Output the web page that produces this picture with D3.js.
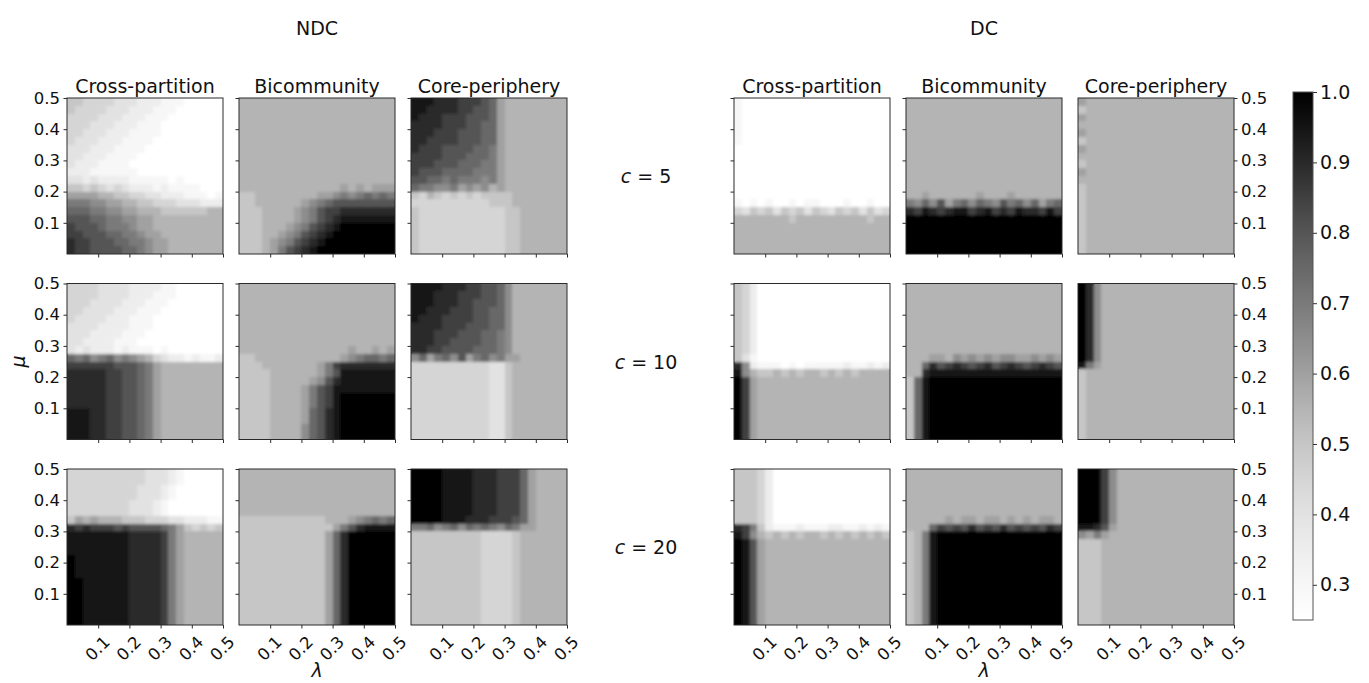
<!DOCTYPE html>
<html lang="en">
<head>
<meta charset="UTF-8">
<title>NDC vs DC heatmaps</title>
<script src="https://d3js.org/d3.v7.min.js"></script>
<style>
  body { margin: 0; background: #fff; }
  svg text { font-family: "DejaVu Sans", sans-serif; fill: #111; }
</style>
</head>
<body>
<script>
    // ---- labels and ticks ----
    var groups = ["NDC", "DC"];
    var models = ["Cross-partition", "Bicommunity", "Core-periphery"];
    var cValues = [5, 10, 20];
    var lambdaTicks = [0.1, 0.2, 0.3, 0.4, 0.5];
    var muTicks = [0.1, 0.2, 0.3, 0.4, 0.5];
    var colorTicks = [0.3, 0.4, 0.5, 0.6, 0.7, 0.8, 0.9, 1.0];

    // each hex digit in the grids below stands for one of these values
    var levels = [0.25, 0.30, 0.35, 0.40, 0.45, 0.50, 0.55, 0.60,
                  0.65, 0.70, 0.75, 0.80, 0.85, 0.90, 0.95, 1.00];

    // grids: row 0 = top (mu ~ 0.5), column 0 = left (lambda ~ 0)
    var ndc5Cross = [
        "55444433322211100000", "54444333222111000000", "44443332221110000000", "44433322211100000000",
        "44333222111100000000", "43332221111000000000", "33322211110000000000", "33222111100000000000",
        "32221111000000000000", "22211111100000000000", "33232222111110100000", "55454343222121111000",
        "77776655443322211101", "99988776655444333222", "aaa99887766655555566", "bbbaa998877666666666",
        "cbbba999877666666666", "ccbbbaa9987766666666", "dccbbbaa998776666666", "dccbbbbaa98776666666"
    ];
    var ndc5Bi = [
        "66666666666666666666", "66666666666666666666", "66666666666666666666", "66666666666666666666",
        "66666666666666666666", "66666666666666666666", "66666666666666666666", "66666666666666666666",
        "66666666666666666666", "66666666666666666666", "66666666666666666666", "66666666666667676777",
        "5566666666778989a9a9", "55666666789abbbbbbbb", "5556666789bccddddddd", "5556666789bcdeeeeeee",
        "555666789bcdefffffff", "55566789bcdeffffffff", "5556789bcdefffffffff", "555679bcdeffffffffff"
    ];
    var ndc5Core = [
        "eeedddcccba766666666", "eeddddccbba766666666", "edddcccbbba766666666", "ddddcccbbaa766666666",
        "dddcccbbbaa766666666", "ddccccbbbaa766666666", "dcccbbbbaa9766666666", "ccccbbbaaa9766666666",
        "cccbbbaaa99766666666", "cbbbaaaa999766666666", "bbaa9a99989766666666", "a9988978786766666666",
        "54654545455556666666", "44444444445556666666", "54444444444455666666", "54444444444455666666",
        "54444444444455666666", "54444444444455666666", "54444444444455666666", "54444444444455666666"
    ];
    var ndc10Cross = [
        "44443333222211000000", "44443333222111000000", "44433332221110000000", "44333322211100000000",
        "43333222111000000000", "33332222111000000000", "33322221110000000000", "33222211100000000000",
        "32322212111010000000", "a9a89a89876432212112", "ccccccbbba9766666666", "dddddccbba9766666666",
        "dddddccbba9766666666", "dddddccbba9766666666", "dddddccbba9766666666", "dddddccbba9766666666",
        "eeeddccbba9766666666", "eeeddccbba9766666666", "eeeddccbba9766666666", "eeeddccbba9766666666"
    ];
    var ndc10Bi = [
        "66666666666666666666", "66666666666666666666", "66666666666666666666", "66666666666666666666",
        "66666666666666666666", "66666666666666666666", "66666666666666666666", "66666666666666666666",
        "66666666666666766767", "5566666666666789aa9a", "555666666679cddddddd", "555566666679beeeeeee",
        "55556666678bdeeeeeee", "5555666679bceeeeeeee", "5555666679bcefffffff", "5555666679bcefffffff",
        "555566667abdefffffff", "555566667abdefffffff", "555566668abdefffffff", "555566668abdefffffff"
    ];
    var ndc10Core = [
        "eeeedddccbba86666666", "eeedddcccbba86666666", "eeedddccbbba86666666", "eedddcccbbaa86666666",
        "edddccccbbaa86666666", "ddddcccbbbaa86666666", "dddcccbbbaa986666666", "dddccbbbbaa986666666",
        "ddccbbbbaaa986666666", "8a79a8b79a8977666666", "44444444443356666666", "44444444443356666666",
        "44444444443356666666", "44444444443356666666", "44444444443356666666", "44444444443356666666",
        "44444444443356666666", "44444444443356666666", "44444444443356666666", "44444444443356666666"
    ];
    var ndc20Cross = [
        "44444444443332100000", "44444444443332100000", "44444444433321000000", "44444444433321000000",
        "44444444333210000000", "44444444333210000000", "57676665554443322211", "dcdcccbcbbbba9754545",
        "eeeeeeeeddddc9766666", "eeeeeeeeddddc9766666", "eeeeeeeeddddc9766666", "feeeeeeeddddc9766666",
        "feeeeeeeddddc9766666", "feeeeeeeddddc9766666", "ffeeeeeeddddc9766666", "ffeeeeeeddddc9766666",
        "ffeeeeeeddddc9766666", "ffeeeeeeddddc9766666", "ffeeeeeeddddc9766666", "ffeeeeeeddddc9766666"
    ];
    var ndc20Bi = [
        "66666666666666666666", "66666666666666666666", "66666666666666666666", "66666666666666666666",
        "66666666666666666666", "66666666666666666666", "55555555555666789a9a", "55555555555579bdeeee",
        "555555555557adffffff", "555555555557adffffff", "555555555557adffffff", "555555555557adffffff",
        "555555555557adffffff", "555555555557adffffff", "555555555557adffffff", "555555555557adffffff",
        "555555555557adffffff", "555555555557adffffff", "555555555557adffffff", "555555555557adffffff"
    ];
    var ndc20Core = [
        "ffffeeeedddccca76666", "ffffeeeedddccca76666", "ffffeeeedddccca76666", "ffffeeeedddccca76666",
        "ffffeeeedddccca76666", "ffffeeeedddccca76666", "ffffeeedddcccba76666", "99a89a8a9a98a9776666",
        "55555555544445666666", "55555555544445666666", "55555555544445666666", "55555555544445666666",
        "55555555544445666666", "55555555544445666666", "55555555544445666666", "55555555544445666666",
        "55555555544445666666", "55555555544445666666", "55555555544445666666", "55555555544445666666"
    ];
    var dc5Cross = [
        "10000000000000000000", "10000000000000000000", "10000000000000000000", "10000000000000000000",
        "10000000000000000000", "10000000000000000000", "00000000000000000000", "00000000000000000000",
        "00000000000000000000", "00000000000000000000", "00000000000000000000", "00000000000000000000",
        "00000000000000000000", "10101001011000100100", "43545354535435453534", "66666665666666666566",
        "66666666666666666666", "66666666666666666666", "66666666666666666666", "66666666666666666666"
    ];
    var dc5Bi = [
        "66666666666666666666", "66666666666666666666", "66666666666666666666", "66666666666666666666",
        "66666666666666666666", "66666666666666666666", "66666666666666666666", "66666666666666666666",
        "66666666666666666666", "66666666666666666666", "66666666666666666666", "66666666666666666666",
        "66766666676667666666", "98a8b79a8a98b9a8a79a", "dcedcdeecdecdceddcec", "ffffffffffffffffffff",
        "ffffffffffffffffffff", "ffffffffffffffffffff", "ffffffffffffffffffff", "ffffffffffffffffffff"
    ];
    var dc5Core = [
        "76666666666666666666", "56666666666666666666", "76666666666666666666", "66666666666666666666",
        "76666666666666666666", "56666666666666666666", "76666666666666666666", "66666666666666666666",
        "56666666666666666666", "76666666666666666666", "66666666666666666666", "56666666666666666666",
        "56666666666666666666", "56666666666666666666", "56666666666666666666", "56666666666666666666",
        "56666666666666666666", "56666666666666666666", "56666666666666666666", "56666666666666666666"
    ];
    var dc10Cross = [
        "54200000000000000000", "54200000000000000000", "54200000000000000000", "54200000000000000000",
        "54200000000000000000", "54200000000000000000", "54200000000000000000", "54200000000000000000",
        "54200000000000000000", "53100000000000000000", "d8211101011111211212", "e8655656566565656666",
        "fc766666666666666666", "fc766666666666666666", "fc766666666666666666", "fc766666666666666666",
        "fc766666666666666666", "fc766666666666666666", "fc766666666666666666", "fc766666666666666666"
    ];
    var dc10Bi = [
        "66666666666666666666", "66666666666666666666", "66666666666666666666", "66666666666666666666",
        "66666666666666666666", "66666666666666666666", "66666666666666666666", "66666666666666666666",
        "66666666666666666666", "66677687878788778787", "66adbcdcbcdbcdcbcdcb", "66deeeeeeeeeeeeeeeee",
        "5aefffffffffffffffff", "5aefffffffffffffffff", "5aefffffffffffffffff", "5aefffffffffffffffff",
        "5aefffffffffffffffff", "5aefffffffffffffffff", "5aefffffffffffffffff", "5aefffffffffffffffff"
    ];
    var dc10Core = [
        "fd866666666666666666", "fd866666666666666666", "fd866666666666666666", "fd866666666666666666",
        "fd866666666666666666", "fd866666666666666666", "fd866666666666666666", "fd866666666666666666",
        "fd866666666666666666", "fd866666666666666666", "e9766666666666666666", "56666666666666666666",
        "56666666666666666666", "56666666666666666666", "56666666666666666666", "56666666666666666666",
        "56666666666666666666", "56666666666666666666", "56666666666666666666", "56666666666666666666"
    ];
    var dc20Cross = [
        "55542000000000000000", "55542000000000000000", "55542000000000000000", "55542000000000000000",
        "55542000000000000000", "55542000000000000000", "55542000000000000000", "dc952111211122112121",
        "ec865656566565656565", "feb76666666666666666", "feb76666666666666666", "feb76666666666666666",
        "feb76666666666666666", "feb76666666666666666", "feb76666666666666666", "feb76666666666666666",
        "feb76666666666666666", "feb76666666666666666", "feb76666666666666666", "feb76666666666666666"
    ];
    var dc20Bi = [
        "66666666666666666666", "66666666666666666666", "66666666666666666666", "66666666666666666666",
        "66666666666666666666", "66666666666666666666", "66666767767767676776", "666acbcbdbcbdbcbcbdc",
        "569effffffffffffffff", "569effffffffffffffff", "569effffffffffffffff", "569effffffffffffffff",
        "569effffffffffffffff", "569effffffffffffffff", "569effffffffffffffff", "569effffffffffffffff",
        "569effffffffffffffff", "569effffffffffffffff", "569effffffffffffffff", "569effffffffffffffff"
    ];
    var dc20Core = [
        "fffc8666666666666666", "fffc8666666666666666", "fffc8666666666666666", "fffc8666666666666666",
        "fffc8666666666666666", "fffc8666666666666666", "fffc8666666666666666", "eedb7666666666666666",
        "87976666666666666666", "55566666666666666666", "55566666666666666666", "55566666666666666666",
        "55566666666666666666", "55566666666666666666", "55566666666666666666", "55566666666666666666",
        "55566666666666666666", "55566666666666666666", "55566666666666666666", "55566666666666666666"
    ];

    // [group][row][col]
    var grids = [
        [[ndc5Cross, ndc5Bi, ndc5Core], [ndc10Cross, ndc10Bi, ndc10Core], [ndc20Cross, ndc20Bi, ndc20Core]],
        [[dc5Cross, dc5Bi, dc5Core], [dc10Cross, dc10Bi, dc10Core], [dc20Cross, dc20Bi, dc20Core]]
    ];

    // ---- layout ----
    var W = 1369, H = 683;
    var size = 156;
    var groupX = [67, 734];
    var colStep = 172;
    var rowY = [98, 283.5, 469];
    var tickFont = "16.5px";
    var bigFont = "19px";

    var svg = d3.select("body").append("svg")
        .attr("width", W)
        .attr("height", H);

    var defs = svg.append("defs");
    defs.append("filter")
        .attr("id", "soft")
        .attr("x", "-5%").attr("y", "-5%")
        .attr("width", "110%").attr("height", "110%")
        .append("feGaussianBlur")
        .attr("stdDeviation", 1.4);
    defs.append("clipPath")
        .attr("id", "panelClip")
        .append("rect")
        .attr("width", size)
        .attr("height", size);

    var color = d3.scaleSequential(d3.interpolateGreys).domain([0.25, 1.0]);

    var x = d3.scaleLinear().domain([0, 0.5]).range([0, size]);
    var y = d3.scaleLinear().domain([0, 0.5]).range([size, 0]);

    function drawCells(sel, cells, dl, dm) {
        sel.selectAll("rect")
            .data(cells)
            .enter()
            .append("rect")
            .attr("x", function (d) { return x(d.j * dl); })
            .attr("y", function (d) { return y(0.5 - d.i * dm); })
            .attr("width", x(dl) - x(0) + 0.4)
            .attr("height", y(0) - y(dm) + 0.4)
            .attr("fill", function (d) { return color(d.v); })
            .attr("shape-rendering", "crispEdges");
    }

    groups.forEach(function (gName, gi) {
        // group title
        svg.append("text")
            .attr("x", groupX[gi] + colStep + size / 2)
            .attr("y", 35)
            .attr("text-anchor", "middle")
            .style("font-size", bigFont)
            .text(gName);

        cValues.forEach(function (c, ri) {
            models.forEach(function (m, ci) {
                var grid = grids[gi][ri][ci];
                var nr = grid.length, nc = grid[0].length;
                var dl = 0.5 / nc, dm = 0.5 / nr;

                var g = svg.append("g")
                    .attr("transform", "translate(" + (groupX[gi] + ci * colStep) + "," + rowY[ri] + ")");

                var cells = [];
                grid.forEach(function (row, i) {
                    row.split("").forEach(function (ch, j) {
                        cells.push({ i: i, j: j, v: levels[parseInt(ch, 16)] });
                    });
                });

                // crisp layer underneath, softened copy on top
                var heat = g.append("g").attr("clip-path", "url(#panelClip)");
                drawCells(heat.append("g"), cells, dl, dm);
                drawCells(heat.append("g").attr("filter", "url(#soft)"), cells, dl, dm);

                // frame
                g.append("rect")
                    .attr("width", size)
                    .attr("height", size)
                    .attr("fill", "none")
                    .attr("stroke", "#2a2a2a")
                    .attr("stroke-width", 1);

                // x axis
                var xAxis = d3.axisBottom(x)
                    .tickValues(lambdaTicks)
                    .tickSize(3.5)
                    .tickFormat(ri === 2 ? d3.format(".1f") : "");
                var xg = g.append("g")
                    .attr("transform", "translate(0," + size + ")")
                    .call(xAxis);
                xg.select(".domain").remove();
                xg.selectAll("line").attr("stroke", "#2a2a2a");
                xg.selectAll("text")
                    .attr("y", null).attr("dy", null)
                    .attr("dominant-baseline", "central")
                    .attr("text-anchor", "middle")
                    .attr("transform", "translate(-1,23.5) rotate(-45)")
                    .style("font-size", tickFont)
                    .style("font-family", "DejaVu Sans")
                    .attr("fill", "#111");

                // y axis
                var rightSide = (gi === 1 && ci === 2);
                var showY = (gi === 0 && ci === 0) || rightSide;
                var yAxis = (rightSide ? d3.axisRight(y) : d3.axisLeft(y))
                    .tickValues(muTicks)
                    .tickSize(3.5)
                    .tickPadding(3.5)
                    .tickFormat(showY ? d3.format(".1f") : "");
                var yg = g.append("g")
                    .attr("transform", rightSide ? "translate(" + size + ",0)" : null)
                    .call(yAxis);
                yg.select(".domain").remove();
                yg.selectAll("line").attr("stroke", "#2a2a2a");
                yg.selectAll("text")
                    .style("font-size", tickFont)
                    .style("font-family", "DejaVu Sans")
                    .attr("fill", "#111");

                // column titles on the first row
                if (ri === 0) {
                    g.append("text")
                        .attr("x", size / 2)
                        .attr("y", -5)
                        .attr("text-anchor", "middle")
                        .style("font-size", bigFont)
                        .text(m);
                }
            });
        });

        // lambda label under the middle column
        svg.append("text")
            .attr("x", groupX[gi] + colStep + size / 2)
            .attr("y", 677)
            .attr("text-anchor", "middle")
            .style("font-size", bigFont)
            .style("font-style", "italic")
            .text("λ");
    });

    // mu label
    svg.append("text")
        .attr("transform", "translate(25," + (rowY[1] + size / 2) + ") rotate(-90)")
        .attr("text-anchor", "middle")
        .style("font-size", bigFont)
        .style("font-style", "italic")
        .text("μ");

    // c = ... row labels between the groups
    cValues.forEach(function (c, ri) {
        var t = svg.append("text")
            .attr("x", 646)
            .attr("y", rowY[ri] + size / 2 + 7)
            .attr("text-anchor", "middle")
            .style("font-size", bigFont);
        t.append("tspan").style("font-style", "italic").text("c");
        t.append("tspan").text(" = " + c);
    });

    // ---- colorbar ----
    var cbX = 1293, cbW = 20, cbTop = 92, cbBottom = 620;
    var cb = d3.scaleLinear().domain([0.25, 1.0]).range([cbBottom, cbTop]);
    var cbRows = d3.range(cbTop, cbBottom, 1);
    svg.append("g").selectAll("rect")
        .data(cbRows)
        .enter()
        .append("rect")
        .attr("x", cbX)
        .attr("y", function (d) { return d; })
        .attr("width", cbW)
        .attr("height", 1.2)
        .attr("fill", function (d) { return color(cb.invert(d + 0.5)); });
    svg.append("rect")
        .attr("x", cbX).attr("y", cbTop)
        .attr("width", cbW).attr("height", cbBottom - cbTop)
        .attr("fill", "none")
        .attr("stroke", "#555")
        .attr("stroke-width", 1);
    var cbAxis = d3.axisRight(cb)
        .tickValues(colorTicks)
        .tickSize(4)
        .tickPadding(3)
        .tickFormat(d3.format(".1f"));
    var cbg = svg.append("g")
        .attr("transform", "translate(" + (cbX + cbW) + ",0)")
        .call(cbAxis);
    cbg.select(".domain").remove();
    cbg.selectAll("line").attr("stroke", "#333");
    cbg.selectAll("text")
        .style("font-size", bigFont)
        .style("font-family", "DejaVu Sans")
        .attr("fill", "#111");
</script>
</body>
</html>
